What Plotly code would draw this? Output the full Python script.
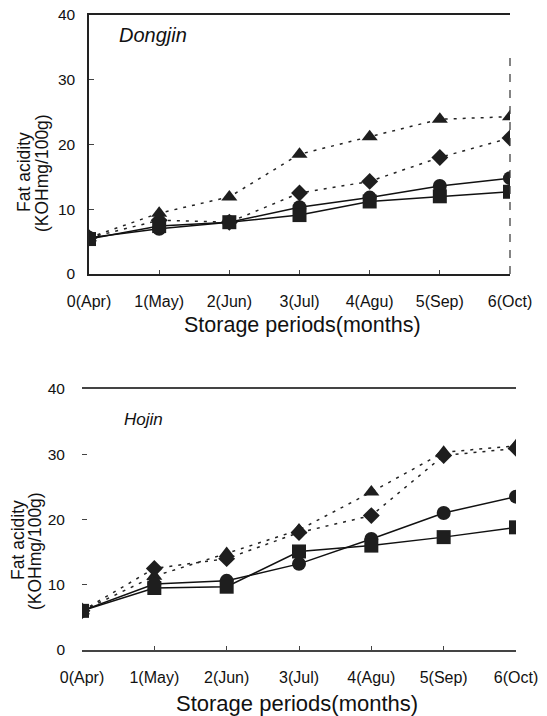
import plotly.graph_objects as go

# page body has an 8px default margin, so the figure is sized to fit the window
OFF = 8
W, H = 547 - OFF, 716 - OFF

months = [0, 1, 2, 3, 4, 5, 6]
month_labels = ["0(Apr)", "1(May)", "2(Jun)", "3(Jul)", "4(Agu)", "5(Sep)", "6(Oct)"]
y_ticks = [0, 10, 20, 30, 40]

# Dongjin
dong_circle = [5.6, 7.0, 8.0, 10.3, 11.8, 13.6, 14.8]
dong_square = [5.4, 7.4, 8.0, 9.1, 11.2, 12.0, 12.7]
dong_triangle = [5.6, 9.4, 11.9, 18.5, 21.2, 23.9, 24.3]
dong_diamond = [5.6, 8.3, 8.0, 12.5, 14.3, 18.0, 21.0]

# Hojin
hojin_circle = [6.0, 10.1, 10.6, 13.2, 17.0, 21.0, 23.5]
hojin_square = [6.0, 9.5, 9.7, 15.1, 16.0, 17.3, 18.8]
hojin_triangle = [6.0, 11.3, 14.8, 18.4, 24.2, 30.3, 31.3]
hojin_diamond = [6.0, 12.5, 14.0, 18.0, 20.6, 29.8, 30.9]

MC = "#1e1e1e"
FONT = "Liberation Sans, Arial, sans-serif"

fig = go.Figure()


def add_series(xa, ya, tri, dia, cir, sq):
    dotted = dict(color="#222", width=1.5, dash="3px,6px")
    solid = dict(color="#111", width=1.5)
    fig.add_trace(go.Scatter(x=months, y=tri, xaxis=xa, yaxis=ya, mode="lines+markers",
                             line=dotted, marker=dict(symbol="triangle-up", size=14, color=MC)))
    fig.add_trace(go.Scatter(x=months, y=dia, xaxis=xa, yaxis=ya, mode="lines+markers",
                             line=dotted, marker=dict(symbol="diamond", size=13, color=MC)))
    fig.add_trace(go.Scatter(x=months, y=cir, xaxis=xa, yaxis=ya, mode="lines+markers",
                             line=solid, marker=dict(symbol="circle", size=14, color=MC)))
    fig.add_trace(go.Scatter(x=months, y=sq, xaxis=xa, yaxis=ya, mode="lines+markers",
                             line=solid, marker=dict(symbol="square", size=14, color=MC)))


add_series("x", "y", dong_triangle, dong_diamond, dong_circle, dong_square)
add_series("x2", "y2", hojin_triangle, hojin_diamond, hojin_circle, hojin_square)


def px_x(p):
    return (p - OFF) / W


def px_y(p):
    return 1 - (p - OFF) / H


# panel boxes in window pixels
d1x = [px_x(89), px_x(510)]
d1y = [px_y(274), px_y(15)]
d2x = [px_x(82), px_x(516)]
d2y = [px_y(650), px_y(389)]

xtickfont = dict(family=FONT, size=16, color="#111")
ytickfont = dict(family=FONT, size=15.5, color="#111")

common_x = dict(range=[0, 6], tickmode="array", tickvals=months, ticktext=month_labels,
                tickfont=xtickfont, showgrid=False, zeroline=False, showline=True,
                linewidth=1.5, mirror=True, ticks="inside", ticklen=4, tickcolor="#444",
                automargin=False, ticklabeloverflow="allow", ticklabelstandoff=12)
common_y = dict(range=[0, 40], tickmode="array", tickvals=y_ticks, tickfont=ytickfont,
                showgrid=False, zeroline=False, ticks="inside", ticklen=5,
                tickcolor="#444", automargin=False, ticklabeloverflow="allow")

fig.update_layout(
    width=W, height=H, margin=dict(l=0, r=0, t=0, b=0),
    paper_bgcolor="white", plot_bgcolor="white", showlegend=False,
    xaxis=dict(domain=d1x, anchor="y", linecolor="#222", **common_x),
    yaxis=dict(domain=d1y, anchor="x", showline=True, linecolor="#222", linewidth=1.5,
               ticklabelstandoff=9, **common_y),
    xaxis2=dict(domain=d2x, anchor="y2", linecolor="#444", **common_x),
    yaxis2=dict(domain=d2y, anchor="x2", showline=False, ticklabelstandoff=16, **common_y),
)

# dashed right border of the top panel
fig.add_shape(type="line", xref="x domain", yref="y domain", x0=1, x1=1, y0=0, y1=0.865,
              line=dict(color="#333", width=1.2, dash="8px,8px"))

ann_font = dict(family=FONT, color="#111", style="italic")
fig.add_annotation(text="Dongjin", xref="paper", yref="paper", x=px_x(117), y=px_y(35),
                   showarrow=False, xanchor="left", yanchor="middle",
                   font=dict(size=20, **ann_font))
fig.add_annotation(text="Hojin", xref="paper", yref="paper", x=px_x(122), y=px_y(419),
                   showarrow=False, xanchor="left", yanchor="middle",
                   font=dict(size=17, **ann_font))

title_font = dict(family=FONT, size=21.5, color="#111")
fig.add_annotation(text="Storage periods(months)", xref="paper", yref="paper",
                   x=px_x(302), y=px_y(325), showarrow=False, xanchor="center",
                   yanchor="middle", font=title_font)
fig.add_annotation(text="Storage periods(months)", xref="paper", yref="paper",
                   x=px_x(297), y=px_y(703), showarrow=False, xanchor="center",
                   yanchor="middle", font=dict(title_font, size=22))

ytitle_font = dict(family=FONT, size=17.5, color="#111")
for (xa, ya), (xb, yb) in [((24, 172), (42, 173)), ((18, 540), (35, 551))]:
    fig.add_annotation(text="Fat acidity", xref="paper", yref="paper", x=px_x(xa), y=px_y(ya),
                       showarrow=False, textangle=-90, xanchor="center", yanchor="middle",
                       font=ytitle_font)
    fig.add_annotation(text="(KOHmg/100g)", xref="paper", yref="paper", x=px_x(xb),
                       y=px_y(yb), showarrow=False, textangle=-90, xanchor="center",
                       yanchor="middle", font=ytitle_font)

fig.write_html("out.html")
